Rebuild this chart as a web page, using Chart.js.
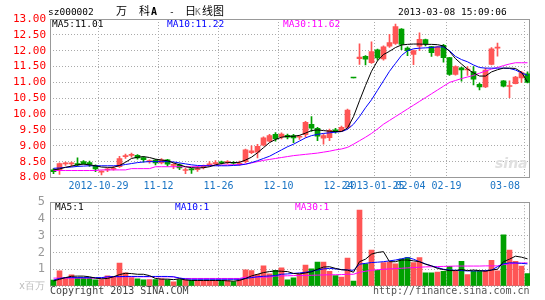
<!DOCTYPE html>
<html>
<head>
<meta charset="utf-8">
<script src="https://cdn.jsdelivr.net/npm/chart.js@4.4.1/dist/chart.umd.min.js"></script>
<style>
  body { margin: 0; background: #fff; width: 545px; height: 300px; overflow: hidden; position: relative; }
  canvas { position: absolute; left: 0; }
  #priceChart { top: 0; }
  #volChart { top: 190px; }
  .t { position: absolute; white-space: pre; font-family: 'DejaVu Sans Mono', monospace; font-size: 9.5px; line-height: 10px; color: #000; }
  .cn { position: absolute; white-space: pre; font-family: 'Noto Sans CJK SC', sans-serif; font-size: 11px; line-height: 11px; color: #000; }
</style>
</head>
<body>
<canvas id="priceChart" width="545" height="190"></canvas>
<canvas id="volChart" width="545" height="110"></canvas>

<div class="t" style="left:48px;top:7px">sz000002</div>
<div class="cn" style="left:116px;top:5px">万</div>
<div class="cn" style="left:139px;top:5px">科</div>
<div class="t" style="left:151px;top:7px;font-weight:bold;font-size:10px">A</div>
<div class="t" style="left:169px;top:7px">-</div>
<div class="cn" style="left:185px;top:5px">日</div>
<div class="t" style="left:195px;top:7px;color:#777">K</div>
<div class="cn" style="left:202px;top:5px">线图</div>
<div class="t" style="left:398px;top:7px">2013-03-08 15:09:06</div>

<div class="t" style="left:52px;top:19px">MA5:11.01</div>
<div class="t" style="left:167px;top:19px;color:#0000ff">MA10:11.22</div>
<div class="t" style="left:283px;top:19px;color:#ff00ff">MA30:11.62</div>

<div class="t" style="left:55px;top:202px">MA5:1</div>
<div class="t" style="left:175px;top:202px;color:#0000ff">MA10:1</div>
<div class="t" style="left:295px;top:202px;color:#ff00ff">MA30:1</div>

<div class="t" style="left:495px;top:156px;font-family:'DejaVu Sans',sans-serif;font-size:14px;line-height:14px;font-style:italic;font-weight:bold;color:#e0e0e0">sina</div>

<div class="t" style="left:50px;top:286px;font-size:10px;color:#444">Copyright 2013 SINA.COM</div>
<div class="t" style="left:373px;top:286px;font-size:10px;color:#555">http://finance.sina.com.cn</div>

<script>
// daily candles, oldest first (80 trading days)
const openP = [8.24,8.25,8.43,8.43,8.44,8.50,8.47,8.36,8.17,8.24,8.26,8.34,8.66,8.70,8.70,8.63,8.50,8.55,8.46,8.56,
  8.38,8.40,8.22,8.27,8.25,8.31,8.38,8.44,8.48,8.47,8.47,8.42,8.50,8.78,8.80,9.02,9.15,9.36,9.28,9.33,
  9.32,9.27,9.35,9.68,9.55,9.24,9.26,9.50,9.47,9.58,11.14,11.75,11.82,11.62,12.03,11.74,12.14,12.23,12.68,12.08,
  11.88,12.14,12.35,12.13,11.85,12.17,11.78,11.25,11.46,11.39,11.34,10.94,10.86,11.57,12.08,11.05,10.87,10.96,11.14,11.27];
const highP = [8.28,8.46,8.49,8.49,8.62,8.53,8.52,8.40,8.21,8.30,8.35,8.67,8.74,8.77,8.72,8.66,8.56,8.57,8.60,8.57,
  8.44,8.43,8.30,8.29,8.35,8.39,8.50,8.53,8.52,8.53,8.50,8.52,8.90,9.00,9.05,9.28,9.36,9.42,9.41,9.37,
  9.36,9.33,9.77,9.92,9.58,9.38,9.53,9.55,9.62,10.16,11.14,12.22,11.85,12.28,12.05,12.15,12.52,12.84,12.70,12.12,
  12.02,12.56,12.37,12.14,12.14,12.20,11.79,11.52,11.48,11.50,11.50,10.98,11.45,12.10,12.24,11.06,11.05,11.19,11.35,11.33];
const lowP = [8.12,8.10,8.38,8.36,8.36,8.42,8.35,8.18,8.08,8.18,8.23,8.32,8.60,8.64,8.58,8.48,8.45,8.40,8.43,8.36,
  8.28,8.25,8.12,8.13,8.19,8.27,8.35,8.42,8.42,8.44,8.41,8.38,8.47,8.75,8.62,9.00,9.12,9.15,9.22,9.22,
  9.10,9.20,9.27,9.45,9.16,9.05,9.16,9.40,9.45,9.55,11.14,11.57,11.55,11.60,11.70,11.70,12.10,12.20,12.03,11.84,
  11.56,12.00,12.15,11.82,11.83,11.64,11.22,11.23,11.04,11.22,10.92,10.76,10.83,11.55,11.83,10.86,10.52,10.95,11.00,10.98];
const closeP = [8.18,8.44,8.44,8.44,8.40,8.44,8.41,8.27,8.19,8.26,8.29,8.60,8.69,8.72,8.62,8.56,8.53,8.46,8.56,8.42,
  8.41,8.30,8.25,8.24,8.28,8.35,8.43,8.47,8.46,8.50,8.45,8.45,8.87,8.84,8.98,9.25,9.32,9.22,9.37,9.27,
  9.25,9.30,9.74,9.56,9.30,9.32,9.49,9.45,9.58,10.13,11.14,11.80,11.73,11.97,11.77,12.12,12.26,12.76,12.20,12.00,
  12.00,12.36,12.22,11.94,12.12,11.78,11.25,11.50,11.39,11.41,11.10,10.86,11.39,12.06,12.10,10.88,10.89,11.17,11.31,11.00];

// price moving averages as drawn
const ma5 = [8.24,8.27,8.32,8.36,8.40,8.42,8.40,8.37,8.33,8.32,8.32,8.38,8.48,8.60,8.64,8.66,8.63,8.58,8.55,8.53,
  8.46,8.40,8.34,8.31,8.30,8.31,8.34,8.40,8.44,8.47,8.47,8.48,8.55,8.64,8.78,8.94,9.10,9.20,9.27,9.30,
  9.30,9.33,9.40,9.48,9.50,9.48,9.46,9.45,9.45,9.56,9.92,10.42,10.90,11.35,11.68,11.88,11.98,12.10,12.18,12.20,
  12.21,12.21,12.20,12.20,12.19,12.15,11.98,11.75,11.58,11.42,11.30,11.20,11.20,11.33,11.40,11.45,11.45,11.44,11.32,11.01];
const ma10 = [8.29,8.30,8.32,8.33,8.35,8.36,8.37,8.37,8.37,8.37,8.37,8.38,8.41,8.44,8.47,8.49,8.50,8.50,8.50,8.50,
  8.49,8.46,8.43,8.40,8.38,8.37,8.37,8.37,8.37,8.37,8.38,8.39,8.42,8.47,8.53,8.60,8.67,8.77,8.87,8.97,
  9.05,9.15,9.25,9.32,9.36,9.39,9.41,9.43,9.45,9.52,9.68,9.92,10.20,10.45,10.75,11.05,11.35,11.60,11.85,12.00,
  12.06,12.08,12.09,12.10,12.12,12.12,12.00,11.82,11.72,11.65,11.55,11.47,11.45,11.45,11.45,11.45,11.44,11.39,11.30,11.22];
const ma30 = [8.22,8.22,8.22,8.22,8.22,8.22,8.22,8.22,8.24,8.24,8.24,8.24,8.24,8.28,8.28,8.28,8.28,8.34,8.34,8.34,
  8.34,8.34,8.34,8.34,8.34,8.38,8.38,8.39,8.39,8.40,8.40,8.41,8.42,8.46,8.50,8.54,8.57,8.60,8.63,8.66,
  8.69,8.71,8.73,8.75,8.77,8.80,8.83,8.87,8.90,8.95,9.05,9.16,9.27,9.39,9.53,9.68,9.80,9.92,10.04,10.16,
  10.28,10.40,10.52,10.64,10.76,10.88,11.00,11.06,11.12,11.17,11.22,11.29,11.36,11.42,11.47,11.53,11.58,11.62,11.62,11.62];

// volume, millions of shares
const volume = [0.35,0.90,0.49,0.67,0.50,0.50,0.47,0.37,0.39,0.60,0.55,1.37,0.78,0.50,0.43,0.37,0.39,0.39,0.43,0.37,
  0.25,0.39,0.37,0.33,0.33,0.33,0.33,0.33,0.33,0.33,0.27,0.41,0.96,0.92,0.69,1.20,0.73,0.94,1.08,0.37,
  0.49,0.72,1.25,1.02,1.43,1.43,0.87,0.62,0.53,1.66,0.30,4.53,1.32,2.15,0.94,1.40,1.43,1.32,1.60,1.70,
  1.40,1.70,0.79,0.79,0.83,0.87,1.17,0.87,1.47,0.68,0.87,0.87,0.94,1.53,0.90,3.06,2.15,1.47,1.19,0.74];
const vma5 = [0.30,0.40,0.50,0.58,0.59,0.59,0.55,0.47,0.43,0.45,0.55,0.68,0.76,0.74,0.70,0.70,0.62,0.45,0.41,0.41,
  0.38,0.43,0.36,0.33,0.33,0.33,0.33,0.33,0.33,0.31,0.29,0.33,0.45,0.60,0.70,0.80,0.86,0.90,0.88,0.86,
  0.75,0.72,0.78,0.85,1.00,1.13,1.15,1.05,0.97,0.95,0.82,1.45,1.60,1.90,2.00,2.05,1.45,1.45,1.55,1.55,
  1.50,1.45,1.30,1.20,1.05,0.98,0.92,0.92,0.98,0.92,0.95,0.92,0.88,0.95,1.00,1.45,1.60,1.78,1.72,1.62];
const vma10 = [0.35,0.45,0.50,0.50,0.50,0.50,0.50,0.50,0.50,0.55,0.56,0.56,0.57,0.57,0.57,0.57,0.57,0.57,0.57,0.57,
  0.55,0.48,0.42,0.40,0.40,0.40,0.40,0.40,0.40,0.40,0.40,0.40,0.45,0.50,0.55,0.58,0.60,0.62,0.70,0.72,
  0.75,0.78,0.82,0.88,0.95,1.02,1.05,1.02,0.98,0.95,0.94,1.30,1.35,1.40,1.42,1.45,1.50,1.55,1.62,1.70,
  1.60,1.45,1.32,1.20,1.10,1.00,0.95,0.94,0.92,0.90,0.90,0.90,0.92,0.95,1.15,1.32,1.38,1.38,1.35,1.32];
const vma30 = [0.47,0.47,0.47,0.47,0.47,0.47,0.47,0.47,0.47,0.55,0.55,0.55,0.55,0.55,0.55,0.55,0.55,0.55,0.55,0.55,
  0.55,0.45,0.45,0.45,0.45,0.45,0.45,0.45,0.45,0.45,0.45,0.45,0.53,0.53,0.53,0.53,0.53,0.60,0.60,0.61,
  0.62,0.62,0.63,0.64,0.65,0.66,0.67,0.67,0.68,0.70,0.70,0.82,0.88,0.94,0.97,1.00,1.02,1.04,1.06,1.08,
  1.10,1.12,1.14,1.15,1.16,1.17,1.18,1.19,1.19,1.19,1.19,1.19,1.20,1.20,1.20,1.28,1.32,1.35,1.37,1.38];

// labelled days (index into the arrays) and their axis text
const tickIdx = [8, 18, 28, 38, 48, 54, 60, 66, 79];
const tickText = ['2012-10-29', '11-12', '11-26', '12-10', '12-24', '2013-01-25', '02-04', '02-19', '03-08'];

const RED = '#ff5555', GREEN = '#00a000';
const colors = closeP.map((c, i) => c > openP[i] ? RED : GREEN);
const pts = arr => arr.map((v, i) => ({ x: i, y: v }));
const MONO = "'DejaVu Sans Mono', monospace";

const frame = {
  id: 'frame',
  beforeDatasetsDraw(chart) {
    const { ctx, chartArea: a } = chart;
    const l = Math.round(a.left) + 0.5, r = Math.round(a.right) - 0.5;
    const t = Math.round(a.top) + 0.5, b = Math.round(a.bottom) - 0.5;
    ctx.save();
    ctx.strokeStyle = '#999';
    ctx.lineWidth = 1;
    ctx.strokeRect(l, t, r - l, b - t);
    ctx.restore();
  }
};

const dateLabels = {
  id: 'dateLabels',
  afterDraw(chart) {
    const { ctx, chartArea, scales: { x } } = chart;
    ctx.save();
    ctx.font = '10px ' + MONO;
    ctx.fillStyle = '#1a74c4';
    ctx.textAlign = 'center';
    ctx.textBaseline = 'middle';
    tickIdx.forEach((v, k) => {
      const w = ctx.measureText(tickText[k]).width;
      const px = Math.min(x.getPixelForValue(v - 0.5), chartArea.right - w / 2 - 10);
      ctx.fillText(tickText[k], px, 186);
    });
    ctx.restore();
  }
};

function xAxis(h) {
  return {
    type: 'linear', min: -0.5833, max: 79.4167, offset: false,
    afterBuildTicks: ax => { ax.ticks = tickIdx.map(v => ({ value: v - 0.5 })); },
    afterFit: ax => { ax.height = h; },
    ticks: { display: false },
    grid: { color: '#aaa', drawTicks: false, offset: false },
    border: { display: false, dash: [1, 2] }
  };
}

function line(data, color) {
  return { type: 'line', data: pts(data), borderColor: color, borderWidth: 1, pointRadius: 0, tension: 0, fill: false, order: 0 };
}

new Chart(document.getElementById('priceChart'), {
  type: 'bar',
  data: {
    datasets: [
      line(ma5, '#000000'),
      line(ma10, '#0000ff'),
      line(ma30, '#ff00ff'),
      { data: lowP.map((l, i) => ({ x: i, y: [l, highP[i]] })), backgroundColor: colors, barThickness: 1, grouped: false, order: 3 },
      { data: openP.map((o, i) => ({ x: i, y: [o, closeP[i]] })), backgroundColor: colors, barThickness: 5, minBarLength: 1, grouped: false, order: 2 }
    ]
  },
  options: {
    responsive: false, animation: false,
    layout: { padding: { top: 19, right: 15, left: 0, bottom: 0 } },
    plugins: { legend: { display: false }, tooltip: { enabled: false } },
    scales: {
      x: xAxis(12.5),
      y: {
        min: 8, max: 13,
        afterFit: ax => { ax.width = 50; },
        ticks: { stepSize: 0.5, autoSkip: false, color: '#ff0000', padding: 4, font: { family: MONO, size: 11 }, callback: v => v.toFixed(2) },
        grid: { color: '#aaa', drawTicks: false },
        border: { display: false, dash: [1, 2] }
      }
    }
  },
  plugins: [frame, dateLabels]
});

new Chart(document.getElementById('volChart'), {
  type: 'bar',
  data: {
    datasets: [
      line(vma5, '#000000'),
      line(vma10, '#0000ff'),
      line(vma30, '#ff00ff'),
      { data: pts(volume), backgroundColor: colors, barThickness: 5, grouped: false, order: 2 }
    ]
  },
  options: {
    responsive: false, animation: false,
    layout: { padding: { top: 11, right: 15, left: 0, bottom: 0 } },
    plugins: { legend: { display: false }, tooltip: { enabled: false } },
    scales: {
      x: xAxis(14),
      y: {
        min: 0, max: 5,
        afterFit: ax => { ax.width = 50; },
        ticks: {
          stepSize: 1, autoSkip: false, padding: 5,
          color: c => c.tick && c.tick.value === 0 ? '#bbb' : '#999',
          font: c => ({ family: MONO, size: c.tick && c.tick.value === 0 ? 10 : 12 }),
          callback: v => v === 0 ? 'x百万' : v
        },
        grid: { color: '#aaa', drawTicks: false },
        border: { display: false, dash: [1, 2] }
      }
    }
  },
  plugins: [frame]
});
</script>
</body>
</html>
